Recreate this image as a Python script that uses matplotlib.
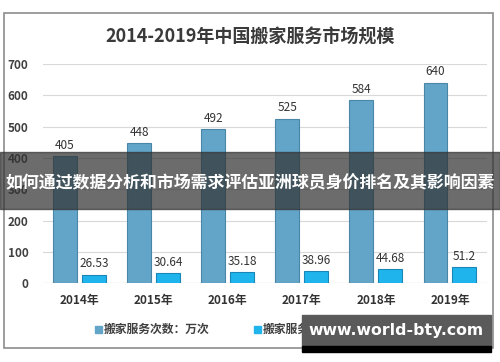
import matplotlib.pyplot as plt
import numpy as np
from matplotlib.patches import Rectangle

plt.rcParams['font.family'] = ['Noto Sans CJK SC', 'DejaVu Sans']

years = ['2014年', '2015年', '2016年', '2017年', '2018年', '2019年']
times = [405, 448, 492, 525, 584, 640]
market = [26.53, 30.64, 35.18, 38.96, 44.68, 51.2]
market_labels = ['26.53', '30.64', '35.18', '38.96', '44.68', '51.2']
yticks = [0, 100, 200, 300, 400, 500, 600, 700]

title = '2014-2019年中国搬家服务市场规模'
banner = '如何通过数据分析和市场需求评估亚洲球员身价排名及其影响因素'
legend_names = ['搬家服务次数：万次', '搬家服务市场规模：亿元']
watermark = 'www.world-bty.com'

c1 = '#62a5c8'
c2 = '#20b4ec'

fig = plt.figure(figsize=(5, 3.62), dpi=100)
ax = fig.add_axes([0.085, 0.218, 0.889, 0.605])

x = np.arange(len(years))
w = 0.323
off = 0.195
ax.bar(x - off, times, w, color=c1, edgecolor='#4a86a6', linewidth=0.8, zorder=3)
ax.bar(x + off, market, w, color=c2, edgecolor='#1a86b8', linewidth=0.8, zorder=3)

for xi, v in zip(x, times):
    ax.text(xi - off, v + 14, str(v), ha='center', va='bottom', fontsize=8.5,
            color='#333333', clip_on=False)
for xi, v, s in zip(x, market, market_labels):
    ax.text(xi + off, v + 14, s, ha='center', va='bottom', fontsize=8.5,
            color='#333333', clip_on=False)

ax.set_xlim(-0.5, 5.5)
ax.set_ylim(0, 700)
ax.set_yticks(yticks)
ax.set_yticklabels([str(t) for t in yticks], fontsize=8.5, fontweight='bold', color='#404040')
ax.set_xticks(x)
ax.set_xticklabels(years, fontsize=8.5, fontweight='bold', color='#333333')
ax.tick_params(length=0, pad=8)
ax.tick_params(axis='y', pad=10)
ax.grid(axis='y', color='#d9d9d9', linewidth=0.8, zorder=0)
for s in ax.spines.values():
    s.set_visible(False)
ax.axhline(0, color='#d0d0d0', linewidth=0.8, zorder=2)

# outer frame and title
fig.patches.append(Rectangle((4 / 500, 1 - 348 / 362), 489 / 500, 335 / 362,
                             transform=fig.transFigure, fill=False,
                             edgecolor='#8c8c8c', linewidth=1.2))
fig.text(0.5, 1 - 37 / 362, title, ha='center', va='center', fontsize=13,
         fontweight='bold', color='#3a3a3a')

# legend
fig.patches.append(Rectangle((95 / 500, 1 - 333 / 362), 7 / 500, 7 / 362,
                             transform=fig.transFigure, color=c1))
fig.text(104 / 500, 1 - 329 / 362, legend_names[0], va='center', fontsize=8.5,
         fontweight='bold', color='#404040')
fig.patches.append(Rectangle((254 / 500, 1 - 333 / 362), 7 / 500, 7 / 362,
                             transform=fig.transFigure, color=c2))
fig.text(263 / 500, 1 - 329 / 362, legend_names[1], va='center', fontsize=8.5,
         fontweight='bold', color='#404040')

# banner overlay
fig.patches.append(Rectangle((0, 1 - 209 / 362), 1, 57 / 362,
                             transform=fig.transFigure, color='#333333',
                             alpha=0.72, zorder=10))
fig.text(0.5, 1 - 183 / 362, banner, ha='center', va='center', fontsize=12.2,
         fontweight='bold', color='white', zorder=11)

# watermark
fig.patches.append(Rectangle((302 / 500, 1 - 346 / 362), 189 / 500, 31 / 362,
                             transform=fig.transFigure, color='#5a5a5a', zorder=10))
fig.patches.append(Rectangle((302 / 500, 1 - 352 / 362), 189 / 500, 6 / 362,
                             transform=fig.transFigure, color='black', zorder=10))
fig.text(396 / 500, 1 - 330 / 362, watermark, ha='center', va='center',
         fontsize=11.3, fontweight='bold', color='white', zorder=11,
         family='DejaVu Sans')

fig.savefig('out.png', dpi=100)
